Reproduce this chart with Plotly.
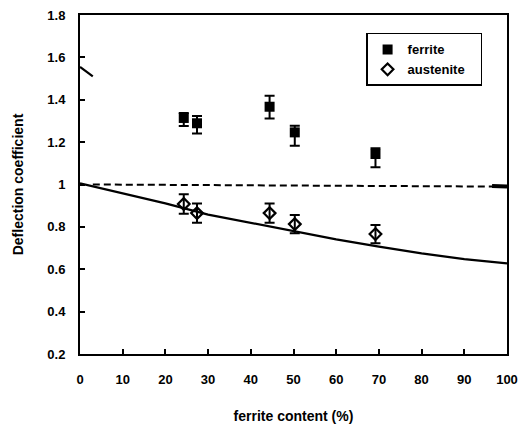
import plotly.graph_objects as go

# Measured deflection coefficients vs. ferrite content
ferrite_content = [24.3, 27.4, 44.4, 50.3, 69.2]

ferrite_y = [1.314, 1.289, 1.367, 1.246, 1.144]
ferrite_err_plus = [0.023, 0.034, 0.052, 0.031, 0.027]
ferrite_err_minus = [0.038, 0.048, 0.055, 0.063, 0.063]

austenite_y = [0.908, 0.865, 0.865, 0.813, 0.766]
austenite_err = [0.046, 0.045, 0.045, 0.043, 0.043]

# Model curves
model_x = [0, 10, 20, 30, 40, 50, 60, 70, 80, 90, 100]
model_austenite = [1.005, 0.958, 0.911, 0.858, 0.82, 0.78, 0.741, 0.707, 0.675, 0.648, 0.628]
model_ferrite_x = [0, 3]
model_ferrite_y = [1.555, 1.51]
reference_x = [3, 100]
reference_y = [1.0, 0.99]
reference_end_x = [96.5, 100]
reference_end_y = [0.993, 0.99]

x_ticks = [0, 10, 20, 30, 40, 50, 60, 70, 80, 90, 100]
y_ticks = [0.2, 0.4, 0.6, 0.8, 1.0, 1.2, 1.4, 1.6, 1.8]
y_tick_text = ["0.2", "0.4", "0.6", "0.8", "1", "1.2", "1.4", "1.6", "1.8"]

FONT = "Liberation Sans, Arial, sans-serif"

fig = go.Figure()

fig.add_trace(go.Scatter(x=model_x, y=model_austenite, mode="lines",
                         line=dict(color="black", width=2.2), showlegend=False,
                         hoverinfo="skip"))
fig.add_trace(go.Scatter(x=model_ferrite_x, y=model_ferrite_y, mode="lines",
                         line=dict(color="black", width=2.2), showlegend=False,
                         hoverinfo="skip"))
fig.add_trace(go.Scatter(x=reference_x, y=reference_y, mode="lines",
                         line=dict(color="black", width=2, dash="7px,4px"),
                         showlegend=False, hoverinfo="skip"))
fig.add_trace(go.Scatter(x=reference_end_x, y=reference_end_y, mode="lines",
                         line=dict(color="black", width=4), showlegend=False,
                         hoverinfo="skip"))

fig.add_trace(go.Scatter(
    x=ferrite_content, y=ferrite_y, mode="markers", name="ferrite",
    marker=dict(symbol="square", size=10, color="black"),
    error_y=dict(type="data", array=ferrite_err_plus, arrayminus=ferrite_err_minus,
                 symmetric=False, color="black", thickness=2, width=5),
))
fig.add_trace(go.Scatter(
    x=ferrite_content, y=austenite_y, mode="markers", name="austenite&nbsp;&nbsp;&nbsp;",
    marker=dict(symbol="diamond-open", size=9, color="black", line=dict(width=2.2)),
    error_y=dict(type="data", array=austenite_err, color="black", thickness=2, width=5),
))

axis_common = dict(
    showline=True, linecolor="black", linewidth=2, mirror=True,
    ticks="inside", ticklen=5, tickwidth=1.5, tickcolor="black",
    showgrid=False, zeroline=False, automargin=False,
    tickfont=dict(family=FONT, size=13, color="black", weight="bold"),
)

fig.update_layout(
    width=520, height=425,
    margin=dict(l=80, r=13, t=15, b=71),
    paper_bgcolor="white", plot_bgcolor="white",
    font=dict(family=FONT, color="black"),
    xaxis=dict(range=[0, 100], tickvals=x_ticks, ticklabelstandoff=12,
               title=dict(text="ferrite content (%)", standoff=26,
                          font=dict(family=FONT, size=14, color="black", weight="bold")),
               **axis_common),
    yaxis=dict(range=[0.2, 1.8], tickvals=y_ticks, ticktext=y_tick_text,
               ticklabelstandoff=10,
               title=dict(text="Deflection coefficient", standoff=20,
                          font=dict(family=FONT, size=14, color="black", weight="bold")),
               **axis_common),
    legend=dict(x=0.67, y=0.947, xanchor="left", yanchor="top",
                bgcolor="white", bordercolor="black", borderwidth=1.5,
                font=dict(family=FONT, size=13, color="black", weight="bold"),
                itemwidth=30, tracegroupgap=2),
)

fig.write_html("out.html")
